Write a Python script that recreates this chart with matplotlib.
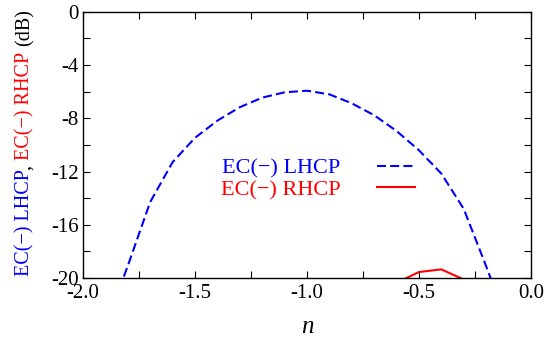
import numpy as np
import matplotlib
matplotlib.use("Agg")
import matplotlib.pyplot as plt

plt.rcParams['font.family'] = 'serif'
plt.rcParams['font.serif'] = ['Liberation Serif', 'DejaVu Serif']
plt.rcParams['axes.unicode_minus'] = False
plt.rcParams['lines.scale_dashes'] = False

# EC(-) LHCP / RHCP gain vs n (values below -20 dB run off the axis)
n_lhcp = [-1.9, -1.8, -1.7, -1.6, -1.5, -1.4, -1.3, -1.2, -1.1, -1.0,
          -0.9, -0.8, -0.7, -0.6, -0.5, -0.4, -0.3, -0.2, -0.1]
lhcp_db = [-23.6, -19.1, -14.3, -11.3, -9.47, -8.18, -7.17, -6.45, -6.05, -5.93,
           -6.2, -6.87, -7.77, -8.95, -10.4, -12.15, -14.8, -19.1, -23.6]
n_rhcp = [-0.6, -0.5, -0.4, -0.3]
rhcp_db = [-20.37, -19.55, -19.35, -20.11]

fig = plt.figure(figsize=(5.53, 3.37), dpi=100)
ax = fig.add_axes([0.150, 0.175, 0.810, 0.790])

ax.plot(n_lhcp, lhcp_db, color='blue', lw=1.5, ls=(0, (6.5, 3)),
        label='EC(\u2212) LHCP')
ax.plot(n_rhcp, rhcp_db, color='red', lw=1.5, label='EC(\u2212) RHCP')

ax.axis([-2.0, 0.0, -20, 0])
ax.xaxis.set_major_locator(plt.MultipleLocator(.5))
ax.xaxis.set_minor_locator(plt.MultipleLocator(.25))
ax.yaxis.set_major_locator(plt.MultipleLocator(4))
ax.yaxis.set_minor_locator(plt.MultipleLocator(2))
ax.tick_params(which='both', direction='in', top=True, right=True,
               length=5, width=0.8, labelsize=15,
               labelfontfamily='Liberation Serif')
ax.tick_params(axis='x', pad=4)
ax.tick_params(axis='y', pad=3)
for s in ax.spines.values():
    s.set_linewidth(1.0)

ax.set_xlabel('n', fontsize=18, fontstyle='italic', labelpad=10)

leg = ax.legend(loc='center left', bbox_to_anchor=(0.308, 0.372),
                frameon=False, markerfirst=False, labelcolor='linecolor',
                fontsize=16, handlelength=1.7, handletextpad=1.65,
                labelspacing=0.05, borderpad=0, borderaxespad=0)

# multi-coloured y label, built piece by piece
pieces = [('EC(\u2212) LHCP', 'blue'), (',', 'black'), (None, None),
          ('EC(\u2212) RHCP', 'red'), (None, None), ('(dB)', 'black')]
fs = 14.5
renderer = fig.canvas.get_renderer()


def text_w(s):
    t = fig.text(0, 0, s, fontsize=fs)
    w = t.get_window_extent(renderer).width
    t.remove()
    return w


space = text_w('x x') - text_w('xx')
widths = [text_w(s) if s else space for s, c in pieces]
total = sum(widths)
W, H = fig.bbox.width, fig.bbox.height
y = (H - 143) - total / 2
xc = 25
for (s, c), w in zip(pieces, widths):
    if s:
        fig.text(xc / W, y / H, s, color=c, fontsize=fs, rotation=90,
                 rotation_mode='anchor', ha='left', va='center')
    y += w

fig.savefig('out.png', dpi=100)
